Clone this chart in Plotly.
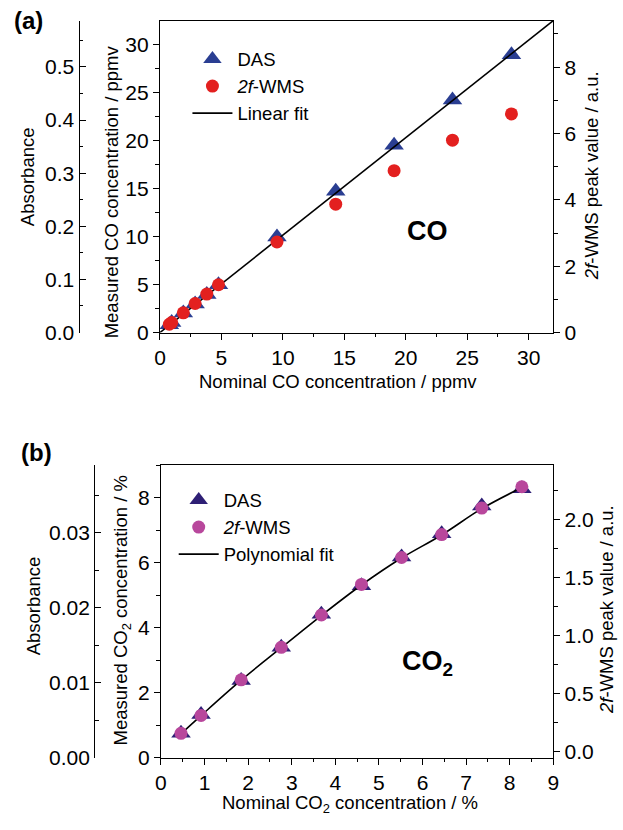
import plotly.graph_objects as go

# ---------------- data ----------------
# Panel (a): CO
co_nominal = [0.76, 0.95, 1.9, 2.86, 3.81, 4.76, 9.52, 14.3, 19.05, 23.8, 28.6]
co_das = [0.8, 1.05, 2.03, 2.97, 3.96, 4.97, 9.94, 14.7, 19.5, 24.2, 28.9]
co_wms = [0.25, 0.30, 0.595, 0.875, 1.16, 1.44, 2.73, 3.87, 4.88, 5.80, 6.59]
co_fit_x = [0, 32]
co_fit_y = [0, 32.45]

# Panel (b): CO2
co2_nominal = [0.46, 0.92, 1.84, 2.76, 3.68, 4.6, 5.52, 6.44, 7.36, 8.28]
co2_das = [0.76, 1.33, 2.38, 3.40, 4.42, 5.30, 6.18, 6.90, 7.75, 8.28]
co2_wms = [0.157, 0.312, 0.619, 0.899, 1.178, 1.442, 1.674, 1.872, 2.10, 2.284]
co2_fit_y = [0.74, 1.30, 2.39, 3.39, 4.38, 5.32, 6.15, 6.86, 7.67, 8.32]

W, H = 623, 830
FONT = "Liberation Sans, Arial, sans-serif"
TICK = 21
TITLE = 18.5

def fx(p):
    return p / W

def fy(p):
    return 1 - p / H

fig = go.Figure()

# ---- panel (a) traces ----
fig.add_trace(go.Scatter(x=co_nominal, y=co_das, mode="markers", name="DAS",
                         marker=dict(symbol="triangle-up", size=17, color="#2a3e92", line=dict(width=0)),
                         xaxis="x", yaxis="y", legend="legend", legendrank=1))
fig.add_trace(go.Scatter(x=co_fit_x, y=co_fit_y, mode="lines", name="Linear fit",
                         line=dict(color="black", width=1.6),
                         xaxis="x", yaxis="y", legend="legend", legendrank=3))
fig.add_trace(go.Scatter(x=[], y=[], mode="markers", showlegend=False, hoverinfo="skip",
                         xaxis="x", yaxis="y2"))
fig.add_trace(go.Scatter(x=co_nominal, y=co_wms, mode="markers", name="<i>2f</i>-WMS",
                         marker=dict(symbol="circle", size=13, color="#e3201f", line=dict(width=0)),
                         xaxis="x", yaxis="y3", legend="legend", legendrank=2))

# ---- panel (b) traces ----
fig.add_trace(go.Scatter(x=co2_nominal, y=co2_das, mode="markers", name="DAS",
                         marker=dict(symbol="triangle-up", size=17, color="#2e1f75", line=dict(width=0)),
                         xaxis="x2", yaxis="y4", legend="legend2", legendrank=1))
fig.add_trace(go.Scatter(x=co2_nominal, y=co2_fit_y, mode="lines", name="Polynomial fit",
                         line=dict(color="black", width=1.6, shape="spline"),
                         xaxis="x2", yaxis="y4", legend="legend2", legendrank=3))
fig.add_trace(go.Scatter(x=[], y=[], mode="markers", showlegend=False, hoverinfo="skip",
                         xaxis="x2", yaxis="y5"))
fig.add_trace(go.Scatter(x=co2_nominal, y=co2_wms, mode="markers", name="<i>2f</i>-WMS",
                         marker=dict(symbol="circle", size=13, color="#b8479c", line=dict(width=0)),
                         xaxis="x2", yaxis="y6", legend="legend2", legendrank=2))


def ax(dtick, minor_dtick, ticks="outside", **kw):
    d = dict(showline=True, linecolor="black", linewidth=1.3,
             ticks=ticks, ticklen=6, tickwidth=1.3, tickcolor="black",
             showgrid=False, zeroline=False, dtick=dtick, tick0=0,
             tickfont=dict(size=TICK, color="black", family=FONT),
             minor=dict(dtick=minor_dtick, ticks=ticks, ticklen=3.5, tickwidth=1.3,
                        tickcolor="black", showgrid=False))
    d.update(kw)
    return d

fig.update_layout(
    width=W, height=H,
    margin=dict(l=0, r=0, t=0, b=0),
    paper_bgcolor="white", plot_bgcolor="rgba(0,0,0,0)",
    font=dict(family=FONT, color="black", size=18),
    xaxis=ax(5, 2.5, domain=[fx(157), fx(558)], range=[0, 32], anchor="y", mirror=True),
    yaxis=ax(5, 2.5, domain=[fy(337), fy(21)], range=[0, 32.45], anchor="x", mirror=True),
    yaxis2=ax(0.1, 0.05, ticks="inside", overlaying="y", anchor="free", position=fx(74),
              side="left", range=[0, 0.587], tickformat=".1f"),
    yaxis3=ax(2, 1, overlaying="y", anchor="x", side="right", range=[0, 9.40]),
    xaxis2=ax(1, 0.5, domain=[fx(158), fx(558)], range=[0, 9], anchor="y4", mirror=True),
    yaxis4=ax(2, 1, domain=[fy(768), fy(471.7)], range=[0, 9], anchor="x2", mirror=True),
    yaxis5=ax(0.01, 0.005, ticks="inside", overlaying="y4", anchor="free", position=fx(90),
              side="left", range=[0, 0.039], tickformat=".2f"),
    yaxis6=ax(0.5, 0.25, overlaying="y4", anchor="x2", side="right", range=[-0.054, 2.468],
              tickformat=".1f"),
    legend=dict(x=fx(185), y=fy(41), xanchor="left", yanchor="top", bgcolor="rgba(0,0,0,0)",
                font=dict(size=TITLE), itemwidth=40, tracegroupgap=0),
    legend2=dict(x=fx(171), y=fy(488), xanchor="left", yanchor="top", bgcolor="rgba(0,0,0,0)",
                 font=dict(size=TITLE), itemwidth=40, tracegroupgap=0),
    showlegend=True,
)

annotations = [
    dict(text="<b>(a)</b>", x=fx(23), y=fy(21), font=dict(size=24)),
    dict(text="<b>(b)</b>", x=fx(31), y=fy(459), font=dict(size=24)),
    dict(text="<b>CO</b>", x=fx(430), y=fy(234), font=dict(size=27)),
    dict(text="<b>CO<sub>2</sub></b>", x=fx(430), y=fy(672), font=dict(size=27)),
    dict(text="Absorbance", x=fx(22), y=fy(179), textangle=-90, font=dict(size=TITLE)),
    dict(text="Measured CO concentration / ppmv", x=fx(108), y=fy(194), textangle=-90, font=dict(size=TITLE)),
    dict(text="<i>2f</i>-WMS peak value / a.u.", x=fx(597), y=fy(178), textangle=-90, font=dict(size=TITLE)),
    dict(text="Nominal CO concentration / ppmv", x=fx(339), y=fy(387), font=dict(size=TITLE)),
    dict(text="Absorbance", x=fx(28), y=fy(614), textangle=-90, font=dict(size=TITLE)),
    dict(text="Measured CO<sub>2</sub> concentration / %", x=fx(118), y=fy(619), textangle=-90, font=dict(size=TITLE)),
    dict(text="<i>2f</i>-WMS peak value / a.u.", x=fx(613), y=fy(618), textangle=-90, font=dict(size=TITLE)),
    dict(text="Nominal CO<sub>2</sub> concentration / %", x=fx(351), y=fy(815), font=dict(size=TITLE)),
]
for a in annotations:
    a.update(xref="paper", yref="paper", showarrow=False, xanchor="center", yanchor="middle")
fig.update_layout(annotations=annotations)

fig.write_html("out.html", config={"displayModeBar": False},
               post_script="document.body.style.margin='0';document.body.style.overflow='hidden';")
